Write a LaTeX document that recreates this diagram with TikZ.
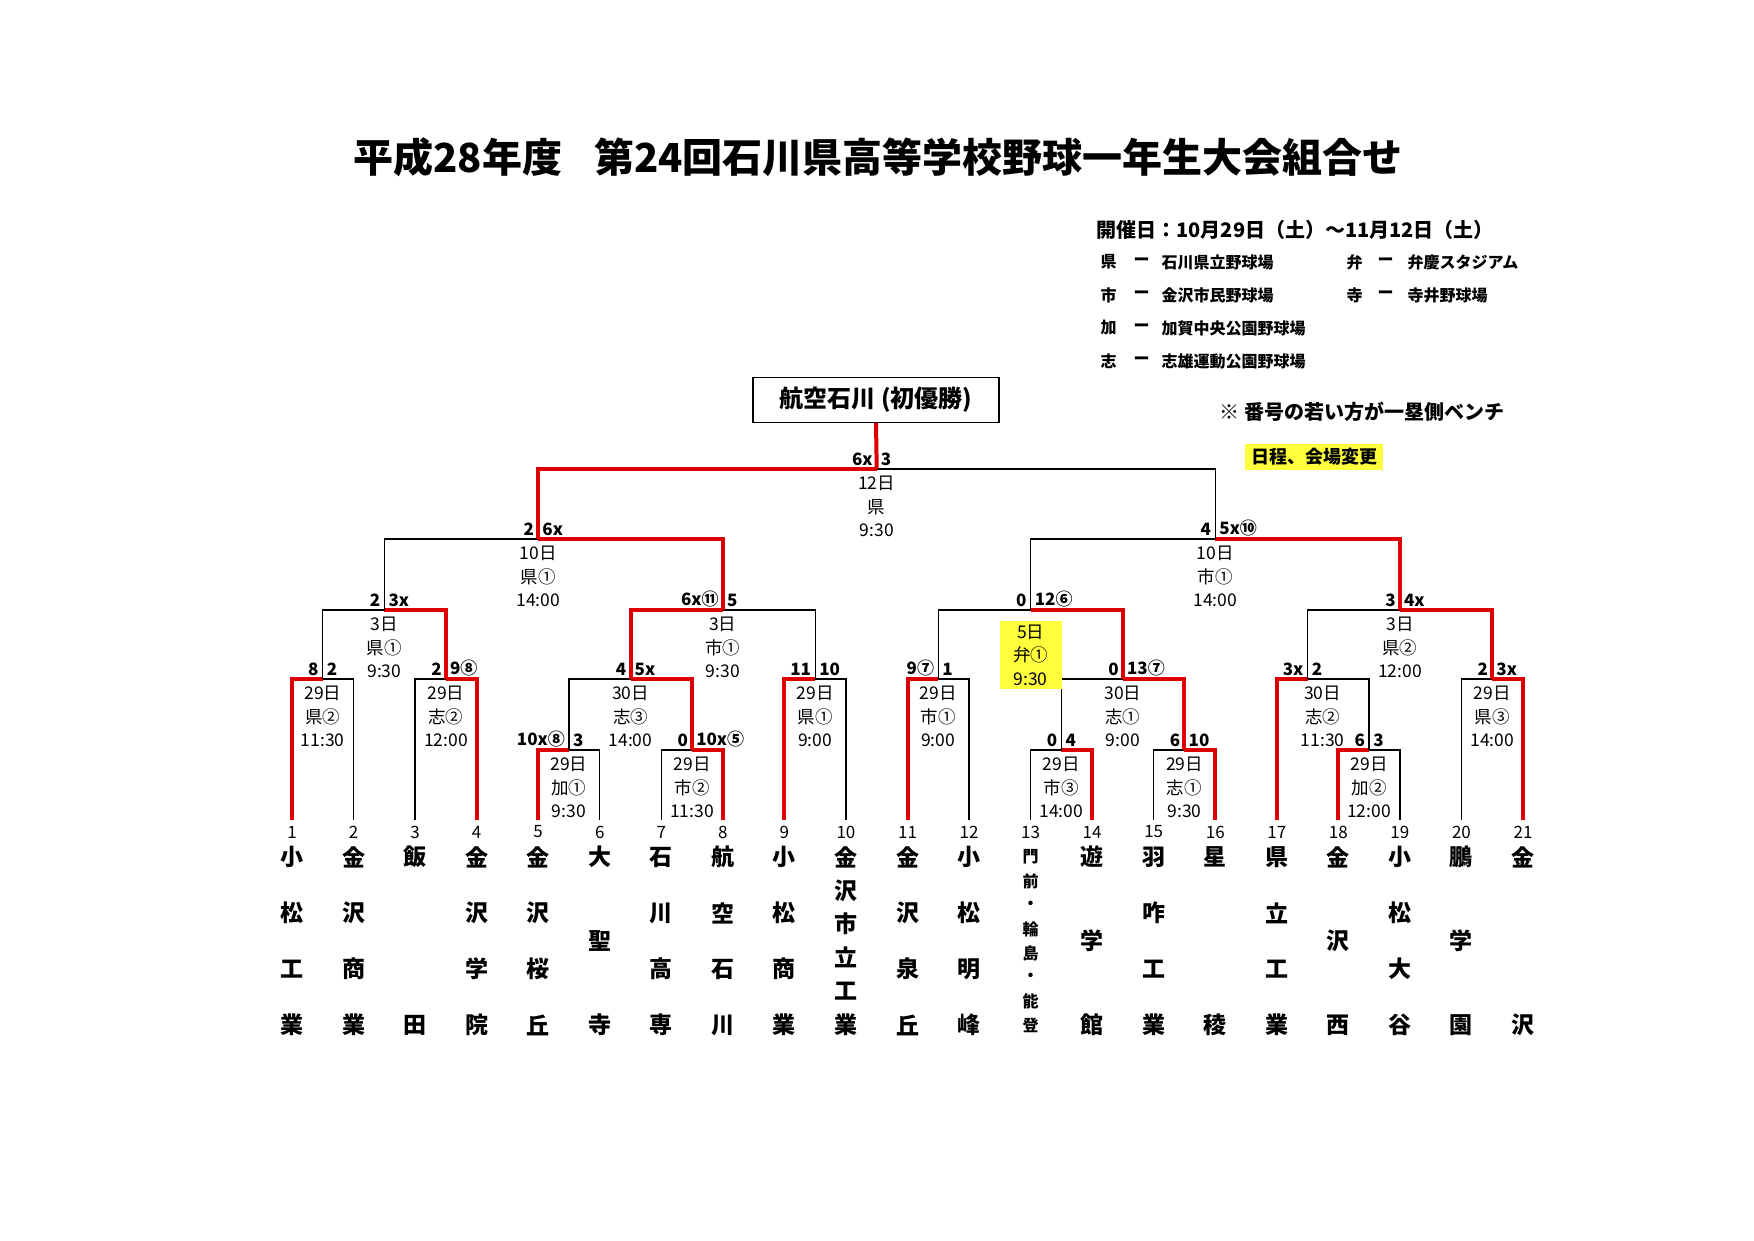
\documentclass[tikz,border=0pt]{standalone}
\usepackage{fontspec}
\setmainfont{Noto Sans CJK JP}
\usetikzlibrary{calc}
\definecolor{wred}{RGB}{222,0,0}
\definecolor{hl}{RGB}{255,255,60}
\newcommand\fs[1]{\fontsize{#1}{#1}\selectfont}
\tikzset{
  blk/.style={line width=1.3pt,black},
  win/.style={line width=4pt,wred},
  sc/.style={font=\fs{17}\bfseries,inner sep=1pt},
  inf/.style={font=\fontsize{17.5}{23.5}\selectfont,align=center,inner sep=1pt,text depth=0pt},
  num/.style={font=\fs{17}},
  nmc/.style={font=\fs{23}\bfseries,inner sep=0pt},
}
\def\infoshift{0}\def\infost{}
% [centre x ref], name, left, right, y, winner, lscore, rscore, info
\newcommand\mt[9][]{%
  \if\relax\detokenize{#1}\relax
    \coordinate (tmpm) at ($(#3)!0.5!(#4)$);
  \else
    \coordinate (tmpm) at (#1);
  \fi
  \coordinate (#2) at (tmpm |- 0,#5);
  \draw[blk] (#3) -- (#3|-#2) -- (#4|-#2) -- (#4);
  \if#6L\draw[win] (#3) -- (#3|-#2) -- (#2);\else\draw[win] (#4) -- (#4|-#2) -- (#2);\fi
  \node[sc,anchor=south east] at ($(#2)+(-3,-2)$) {#7};
  \node[sc,anchor=south west] at ($(#2)+(3,-2)$) {#8};
  \node[inf,anchor=north,style/.expand once=\infost] at ($(#2)+(\infoshift,6)$) {#9};
  \gdef\infoshift{0}\gdef\infost{}%
}
\newcommand\nm[4][nmc]{%
  \foreach \c [count=\k] in {#4}{
    \node[#1] (n#2-\k) at ($(t#2)+(0,{37+(\k-1)*168/(#3-1)})$) {\c};
  }}
\begin{document}
\begin{tikzpicture}[x=1pt,y=-1pt]
\useasboundingbox (0,0) rectangle (1754,1240);
\node[font=\fs{40}\bfseries] (title) at (878,157) {平成28年度\hspace{0.8em}第24回石川県高等学校野球一年生大会組合せ};
% header
\node[font=\fs{20}\bfseries,anchor=west] (hd) at (1093,230) {開催日：10月29日（土）～11月12日（土）};
\foreach \yy/\a/\b/\c/\d in {262/県/石川県立野球場/弁/弁慶スタジアム,295/市/金沢市民野球場/寺/寺井野球場,328/加/加賀中央公園野球場//,361/志/志雄運動公園野球場//}{
  \node[font=\fs{16}\bfseries,anchor=west] (v\yy a) at (1097,\yy) {\a};
  \node[font=\fs{16}\bfseries,anchor=west] (v\yy b) at (1130,\yy) {ー};
  \node[font=\fs{16}\bfseries,anchor=west] (v\yy c) at (1158,\yy) {\b};
  \node[font=\fs{16}\bfseries,anchor=west] (v\yy d) at (1343,\yy) {\c};
  \node[font=\fs{16}\bfseries,anchor=west] (v\yy e) at (1374,\yy) {\ifx\c\empty\else ー\fi};
  \node[font=\fs{16}\bfseries,anchor=west] (v\yy f) at (1404,\yy) {\d};
}
\node[font=\fs{20}\bfseries,anchor=west] (note) at (1216,412) {※ 番号の若い方が一塁側ベンチ};
\node[font=\fs{18}\bfseries,fill=hl,anchor=west,minimum height=26,inner xsep=6pt] (chg) at (1245,457) {日程、会場変更};
\node[draw,line width=1.2pt,minimum width=246,minimum height=45,font=\fs{24}\bfseries] (champ) at (876,400) {航空石川 (初優勝)};
% teams
\foreach \i in {1,...,21}{
  \coordinate (t\i) at ({292+(\i-1)*61.55},820);
  \node[num] (no\i) at ($(t\i)+(0,12)$) {\i};
}
% left
\mt{m12}{t1}{t2}{679}{L}{8}{2}{29日\\県②\\11:30}
\mt{m34}{t3}{t4}{679}{R}{2}{9⑧}{29日\\志②\\12:00}
\mt{m14}{m12}{m34}{610}{R}{2}{3x}{3日\\県①\\9:30}
\mt{m56}{t5}{t6}{750}{L}{10x⑧}{3}{29日\\加①\\9:30}
\mt{m78}{t7}{t8}{750}{R}{0}{10x⑤}{29日\\市②\\11:30}
\mt{m58}{m56}{m78}{679}{R}{4}{5x}{30日\\志③\\14:00}
\mt{m910}{t9}{t10}{679}{L}{11}{10}{29日\\県①\\9:00}
\mt{m510}{m58}{m910}{610}{L}{6x⑪}{5}{3日\\市①\\9:30}
\mt[t5]{mL}{m14}{m510}{539}{R}{2}{6x}{10日\\県①\\14:00}
% right
\mt{m1112}{t11}{t12}{679}{L}{9⑦}{1}{29日\\市①\\9:00}
\mt{m1314}{t13}{t14}{750}{R}{0}{4}{29日\\市③\\14:00}
\mt{m1516}{t15}{t16}{750}{R}{6}{10}{29日\\志①\\9:30}
\mt{m1316}{m1314}{m1516}{679}{R}{0}{13⑦}{30日\\志①\\9:00}
\def\infost{fill=hl,minimum width=62,minimum height=68,yshift=-5}
\mt{m1116}{m1112}{m1316}{610}{R}{0}{12⑥}{5日\\弁①\\9:30}
\mt{m1819}{t18}{t19}{750}{L}{6}{3}{29日\\加②\\12:00}
\coordinate (c1718) at ($(t17)!0.5!(t18)$);
\def\infoshift{15}
\mt[c1718]{m1719}{t17}{m1819}{679}{L}{3x}{2}{30日\\志②\\11:30}
\mt{m2021}{t20}{t21}{679}{R}{2}{3x}{29日\\県③\\14:00}
\mt{m1721}{m1719}{m2021}{610}{R}{3}{4x}{3日\\県②\\12:00}
\mt{mR}{m1116}{m1721}{539}{R}{4}{5x⑩}{10日\\市①\\14:00}
\mt{mF}{mL}{mR}{469}{L}{6x}{3}{12日\\県\\9:30}
\draw[win] (mF) -- (champ.south);
% names
\nm{1}{4}{小,松,工,業}
\nm{2}{4}{金,沢,商,業}
\nm{3}{2}{飯,田}
\nm{4}{4}{金,沢,学,院}
\nm{5}{4}{金,沢,桜,丘}
\nm{6}{3}{大,聖,寺}
\nm{7}{4}{石,川,高,専}
\nm{8}{4}{航,空,石,川}
\nm{9}{4}{小,松,商,業}
\nm{10}{6}{金,沢,市,立,工,業}
\nm{11}{4}{金,沢,泉,丘}
\nm{12}{4}{小,松,明,峰}
\nm[nmc,font=\fs{16}\bfseries]{13}{8}{門,前,・,輪,島,・,能,登}
\nm{14}{3}{遊,学,館}
\nm{15}{4}{羽,咋,工,業}
\nm{16}{2}{星,稜}
\nm{17}{4}{県,立,工,業}
\nm{18}{3}{金,沢,西}
\nm{19}{4}{小,松,大,谷}
\nm{20}{3}{鵬,学,園}
\nm{21}{2}{金,沢}
\end{tikzpicture}
\end{document}
